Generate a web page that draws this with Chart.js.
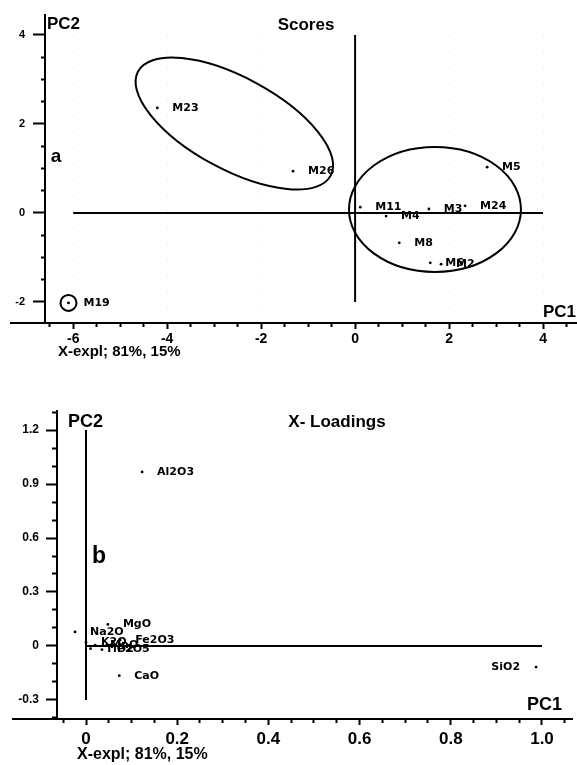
<!DOCTYPE html>
<html>
<head>
<meta charset="utf-8">
<script src="https://cdn.jsdelivr.net/npm/chart.js@4.4.0/dist/chart.umd.min.js"></script>
<style>
  html, body { margin: 0; padding: 0; background: #fff; }
  body { width: 577px; height: 765px; position: relative; overflow: hidden; }
  canvas { position: absolute; left: 0; }
  #c1 { top: 0; }
  #c2 { top: 380px; }
</style>
</head>
<body>
<canvas id="c1" width="577" height="380"></canvas>
<canvas id="c2" width="577" height="385"></canvas>
<script>
// ---------- DATA: Scores (PC1 / PC2) ----------
const scoreNames = ['M23', 'M26', 'M5', 'M11', 'M4', 'M3', 'M24', 'M8', 'M6', 'M2', 'M19'];
const scoreX     = [-4.21, -1.32, 2.81, 0.11, 0.66, 1.57, 2.34, 0.94, 1.60, 1.83, -6.10];
const scoreY     = [ 2.36,  0.94, 1.03, 0.13, -0.07, 0.09, 0.16, -0.67, -1.12, -1.15, -2.02];
const scoreCircled = ['M19'];
// reference lines of the score plot
const scoreHLineX = [-6, 4];
const scoreHLineY = [0, 0];
const scoreVLineX = [0, 0];
const scoreVLineY = [-2, 4];
// confidence ellipses (centre and end of major semi-axis in data units, minor/major ratio)
const scoreEllipseCX   = [-2.57, 1.70];
const scoreEllipseCY   = [ 2.01, 0.08];
const scoreEllipseTipX = [-0.52, 3.53];
const scoreEllipseTipY = [ 0.84, 0.08];
const scoreEllipseRatio = [0.42, 0.727];
// tick labels
const scoreXTicks = [-6, -4, -2, 0, 2, 4];
const scoreYTicks = [-2, 0, 2, 4];

// ---------- DATA: X-Loadings ----------
const loadNames = ['Al2O3', 'SiO2', 'CaO', 'MgO', 'Na2O', 'Fe2O3', 'K2O', 'TiO2', 'MnO', 'P2O5'];
const loadX     = [0.123, 0.987, 0.073, 0.048, -0.024, 0.075, 0.000, 0.010, 0.020, 0.035];
const loadY     = [0.967, -0.117, -0.165, 0.120, 0.078, 0.033, 0.020, -0.015, 0.005, -0.020];
const loadLeftLabels = ['SiO2'];
const loadHLineX = [0, 1.0];
const loadHLineY = [0, 0];
const loadVLineX = [0, 0];
const loadVLineY = [-0.3, 1.2];
const loadXTicks = ['0', '0.2', '0.4', '0.6', '0.8', '1.0'];
const loadYTicks = ['-0.3', '0', '0.3', '0.6', '0.9', '1.2'];

// ---------- helpers ----------
Chart.defaults.font.family = '"Liberation Sans", Arial, Helvetica, sans-serif';
Chart.defaults.color = '#000';
const pts = (xs, ys) => xs.map((x, i) => ({ x: x, y: ys[i] }));
const near = (a, b) => Math.abs(a - b) < 1e-6;
const isIn = (v, list) => list.some(t => near(v, Number(t)));

const pointLabelPlugin = {
  id: 'pointLabels',
  afterDatasetsDraw(chart) {
    const ctx = chart.ctx;
    chart.data.datasets.forEach((ds, di) => {
      if (!ds.pointNames) return;
      const meta = chart.getDatasetMeta(di);
      ctx.save();
      ctx.font = 'bold 11px "DejaVu Sans", Verdana, sans-serif';
      ctx.fillStyle = '#000';
      ctx.textBaseline = 'middle';
      meta.data.forEach((el, i) => {
        const name = ds.pointNames[i];
        if (!name) return;
        const left = (ds.leftNames || []).includes(name);
        ctx.textAlign = left ? 'right' : 'left';
        ctx.fillText(name, el.x + (left ? -16 : 15), el.y);
      });
      ctx.restore();
    });
  }
};

const ellipsePlugin = {
  id: 'ellipses',
  afterDatasetsDraw(chart, args, opts) {
    if (!opts || !opts.cx) return;
    const ctx = chart.ctx, xs = chart.scales.x, ys = chart.scales.y;
    ctx.save();
    ctx.strokeStyle = '#000';
    ctx.lineWidth = 2;
    opts.cx.forEach((c, i) => {
      const px = xs.getPixelForValue(c), py = ys.getPixelForValue(opts.cy[i]);
      const tx = xs.getPixelForValue(opts.tipX[i]), ty = ys.getPixelForValue(opts.tipY[i]);
      const a = Math.hypot(tx - px, ty - py);
      const ang = Math.atan2(ty - py, tx - px);
      ctx.beginPath();
      ctx.ellipse(px, py, a, a * opts.ratio[i], ang, 0, Math.PI * 2);
      ctx.stroke();
    });
    ctx.restore();
  }
};

const decorPlugin = {
  id: 'decor',
  beforeDatasetsDraw(chart, args, opts) {
    const ctx = chart.ctx, xs = chart.scales.x, ca = chart.chartArea;
    if (opts.dotGrid) {
      ctx.save();
      ctx.strokeStyle = '#dedede';
      ctx.lineWidth = 1;
      ctx.setLineDash([1, 15]);
      opts.dotGrid.forEach(v => {
        const p = Math.round(xs.getPixelForValue(v)) + 0.5;
        ctx.beginPath(); ctx.moveTo(p, ca.top + 20); ctx.lineTo(p, ca.bottom - 4); ctx.stroke();
      });
      ctx.restore();
    }
  },
  afterDraw(chart, args, opts) {
    const ctx = chart.ctx, ca = chart.chartArea;
    ctx.save();
    // x-axis line continues to the left of the y axis
    ctx.strokeStyle = '#000';
    ctx.lineWidth = 2;
    ctx.beginPath();
    ctx.moveTo(opts.extendLeft, Math.round(ca.bottom));
    ctx.lineTo(ca.left, Math.round(ca.bottom));
    ctx.stroke();
    ctx.fillStyle = '#000';
    ctx.textBaseline = 'middle';
    (opts.texts || []).forEach(t => {
      ctx.font = 'bold ' + t.size + 'px "Liberation Sans", Arial, sans-serif';
      ctx.textAlign = t.align || 'left';
      ctx.fillText(t.text, t.x, t.y);
    });
    ctx.restore();
  }
};

function axisOpts(o) {
  return {
    type: 'linear',
    min: o.min, max: o.max,
    afterFit: s => {
      o.fit(s);
      s.paddingLeft = 0; s.paddingRight = 0; s.paddingTop = 0; s.paddingBottom = 0;
    },
    ticks: {
      stepSize: o.step,
      includeBounds: false,
      autoSkip: false,
      maxRotation: 0,
      padding: o.pad,
      color: '#000',
      font: { size: o.font, weight: 'bold' },
      callback: function (v) {
        const hit = o.labels.find(t => near(v, Number(t)));
        return hit === undefined ? '' : String(hit);
      }
    },
    grid: {
      drawOnChartArea: false,
      drawTicks: true,
      tickLength: o.tl,
      tickColor: '#000',
      tickWidth: 2,
      tickBorderDash: ctx => isIn(ctx.tick.value, o.labels) ? [] : o.minorDash
    },
    border: { display: true, color: '#000', width: 2 }
  };
}

function refLine(xs, ys) {
  return { data: pts(xs, ys), showLine: true, borderColor: '#000', borderWidth: 2, pointRadius: 0, order: 3, fill: false, tension: 0 };
}

// ---------- Chart 1: Scores ----------
const circIdx = scoreNames.map((n, i) => scoreCircled.includes(n) ? i : -1).filter(i => i >= 0);
new Chart(document.getElementById('c1'), {
  type: 'scatter',
  data: {
    datasets: [
      { data: pts(scoreX, scoreY), pointNames: scoreNames, pointRadius: 1.4, pointBackgroundColor: '#000', pointBorderWidth: 0, order: 1 },
      { data: circIdx.map(i => ({ x: scoreX[i], y: scoreY[i] })), pointRadius: 8, pointBorderWidth: 2, pointBorderColor: '#000', pointBackgroundColor: 'rgba(0,0,0,0)', order: 2 },
      refLine(scoreHLineX, scoreHLineY),
      refLine(scoreVLineX, scoreVLineY)
    ]
  },
  options: {
    responsive: false, animation: false, events: [],
    layout: { autoPadding: false, padding: { top: 15, left: 0, right: 0, bottom: 0 } },
    plugins: {
      legend: { display: false }, tooltip: { enabled: false },
      ellipses: { cx: scoreEllipseCX, cy: scoreEllipseCY, tipX: scoreEllipseTipX, tipY: scoreEllipseTipY, ratio: scoreEllipseRatio },
      decor: {
        extendLeft: 10,
        dotGrid: scoreXTicks.filter(v => v !== 0),
        texts: [
          { text: 'PC2', x: 47, y: 24, size: 17 },
          { text: 'Scores', x: 306, y: 25, size: 17, align: 'center' },
          { text: 'a', x: 56, y: 157, size: 19, align: 'center' },
          { text: 'PC1', x: 576, y: 312, size: 17, align: 'right' },
          { text: 'X-expl; 81%, 15%', x: 58, y: 352, size: 15 }
        ]
      }
    },
    scales: {
      x: axisOpts({ min: -6.6, max: 4.723, step: 0.5, labels: scoreXTicks, pad: 2, font: 14, tl: 6, minorDash: [3, 100], fit: s => { s.height = 57; } }),
      y: axisOpts({ min: -2.472, max: 4.449, step: 0.5, labels: scoreYTicks, pad: 8, font: 11, tl: 12, minorDash: [0, 8, 3, 100], fit: s => { s.width = 45; } })
    }
  },
  plugins: [decorPlugin, ellipsePlugin, pointLabelPlugin]
});

// ---------- Chart 2: X-Loadings ----------
new Chart(document.getElementById('c2'), {
  type: 'scatter',
  data: {
    datasets: [
      { data: pts(loadX, loadY), pointNames: loadNames, leftNames: loadLeftLabels, pointRadius: 1.4, pointBackgroundColor: '#000', pointBorderWidth: 0, order: 1 },
      refLine(loadHLineX, loadHLineY),
      refLine(loadVLineX, loadVLineY)
    ]
  },
  options: {
    responsive: false, animation: false, events: [],
    layout: { autoPadding: false, padding: { top: 31, left: 0, right: 5, bottom: 0 } },
    plugins: {
      legend: { display: false }, tooltip: { enabled: false },
      decor: {
        extendLeft: 12,
        texts: [
          { text: 'PC2', x: 68, y: 42, size: 18 },
          { text: 'X- Loadings', x: 337, y: 42, size: 17, align: 'center' },
          { text: 'b', x: 99, y: 177, size: 23, align: 'center' },
          { text: 'PC1', x: 527, y: 325, size: 18 },
          { text: 'X-expl; 81%, 15%', x: 77, y: 375, size: 16 }
        ]
      }
    },
    scales: {
      x: axisOpts({ min: -0.0636, max: 1.0658, step: 0.05, labels: loadXTicks, pad: 4, font: 17, tl: 6, minorDash: [3, 100], fit: s => { s.height = 46; } }),
      y: axisOpts({ min: -0.4056, max: 1.3056, step: 0.1, labels: loadYTicks, pad: 7, font: 12, tl: 11, minorDash: [0, 6, 4, 100], fit: s => { s.width = 57; } })
    }
  },
  plugins: [decorPlugin, pointLabelPlugin]
});
</script>
</body>
</html>
